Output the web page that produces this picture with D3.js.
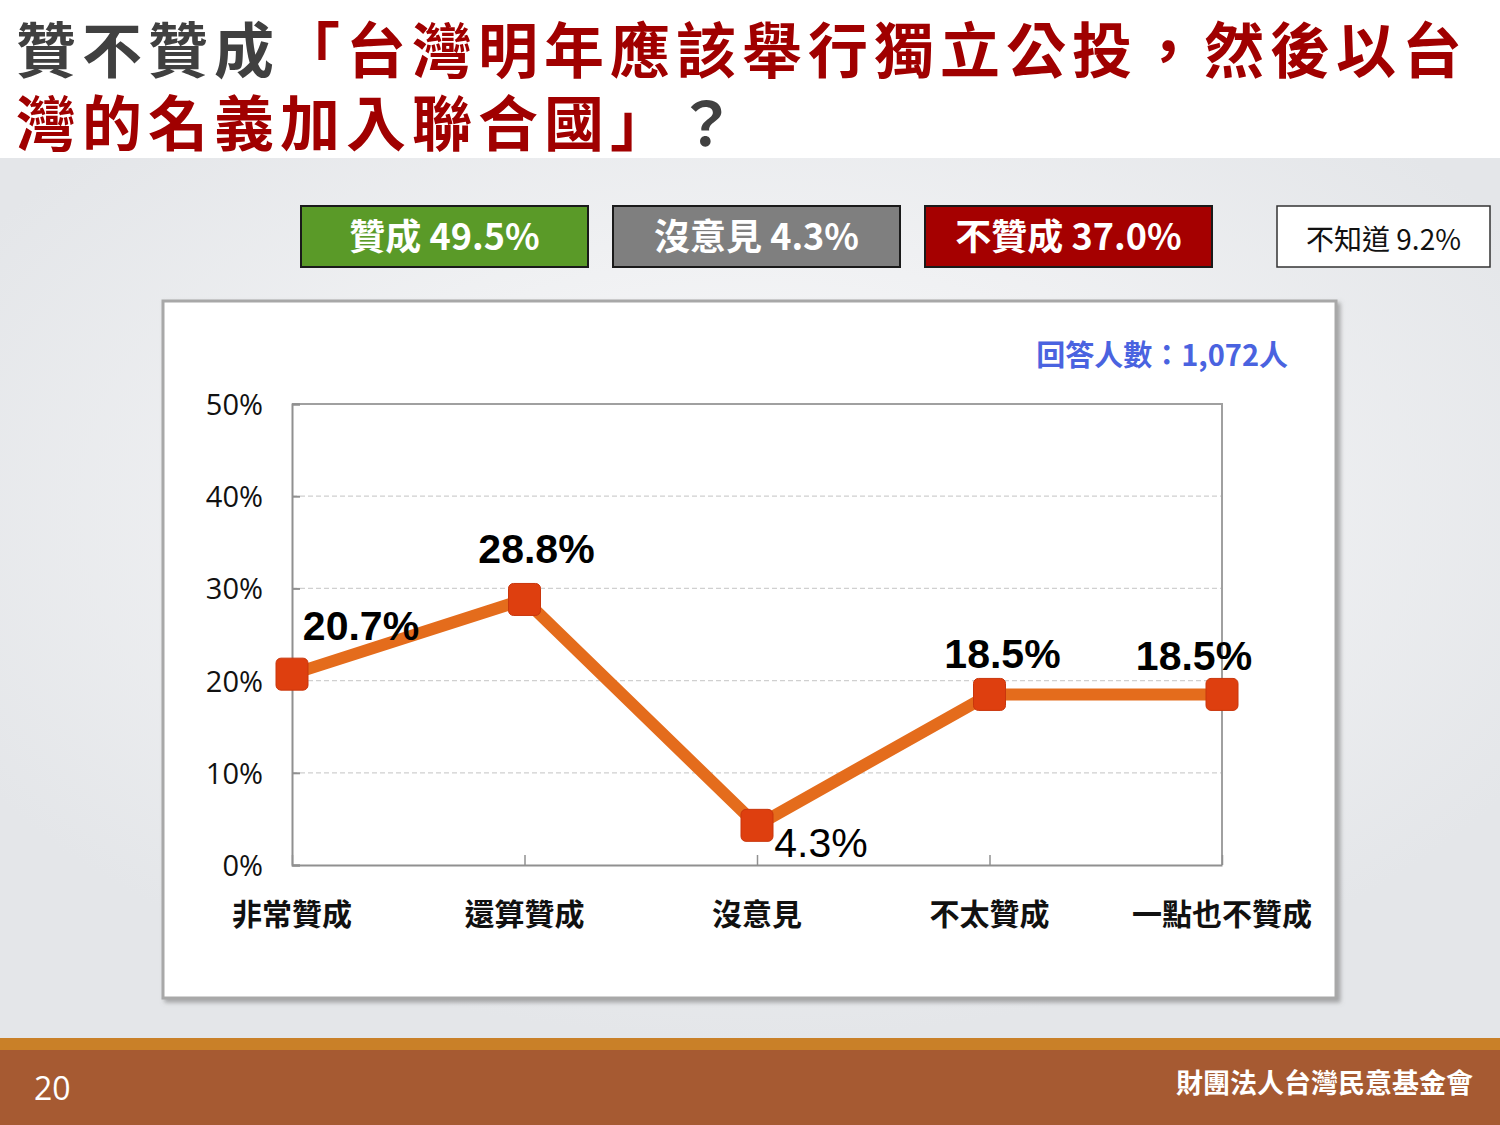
<!DOCTYPE html>
<html>
<head>
<meta charset="utf-8">
<script src="https://cdn.jsdelivr.net/npm/d3@7"></script>
<style>
  html, body { margin: 0; padding: 0; background: #ffffff; }
  svg { display: block; }
</style>
</head>
<body>
<svg id="slide" width="1500" height="1125"></svg>
<script>
// Survey answers and their shares (%)
const categories = ["非常贊成", "還算贊成", "沒意見", "不太贊成", "一點也不贊成"];
const shares = [20.7, 28.8, 4.3, 18.5, 18.5];
const yTicks = [0, 10, 20, 30, 40, 50];

// Summary boxes above the chart
const summaryLabels = ["贊成 49.5%", "沒意見 4.3%", "不贊成 37.0%", "不知道 9.2%"];
const summaryFills = ["#5a9a28", "#7f7f7f", "#a50000", "#ffffff"];
const summaryText = ["#ffffff", "#ffffff", "#ffffff", "#111111"];

const CJK = "'Noto Sans CJK TC', 'Noto Sans CJK SC', sans-serif";
const LATIN = "'Liberation Sans', Arial, sans-serif";

const svg = d3.select("#slide");
const defs = svg.append("defs");

// Slide background: soft grey with a lighter centre
const bg = defs.append("radialGradient").attr("id", "bgGrad")
  .attr("cx", "50%").attr("cy", "40%").attr("r", "60%");
bg.append("stop").attr("offset", "0%").attr("stop-color", "#fbfbfc");
bg.append("stop").attr("offset", "100%").attr("stop-color", "#e4e6e9");

const shadow = defs.append("filter").attr("id", "panelShadow")
  .attr("x", "-5%").attr("y", "-5%").attr("width", "110%").attr("height", "110%");
shadow.append("feDropShadow").attr("dx", 3).attr("dy", 3).attr("stdDeviation", 2)
  .attr("flood-color", "#777").attr("flood-opacity", 0.6);

svg.append("rect").attr("x", 0).attr("y", 0).attr("width", 1500).attr("height", 1125).attr("fill", "#fff");
svg.append("rect").attr("x", 0).attr("y", 158).attr("width", 1500).attr("height", 880).attr("fill", "url(#bgGrad)");

// Title (two lines)
const title = svg.append("g").attr("font-family", CJK).attr("font-weight", 700)
  .attr("font-size", 60).attr("letter-spacing", 6);
const t1 = title.append("text").attr("x", 16).attr("y", 73);
t1.append("tspan").attr("fill", "#404040").text("贊不贊成");
t1.append("tspan").attr("fill", "#a00000").text("「台灣明年應該舉行獨立公投，然後以台");
const t2 = title.append("text").attr("x", 16).attr("y", 146);
t2.append("tspan").attr("fill", "#a00000").text("灣的名義加入聯合國」");
t2.append("tspan").attr("fill", "#404040").text("？");

// Summary boxes
const boxX = [301, 613, 925, 1277];
const boxW = [287, 287, 287, 213];
summaryLabels.forEach((lab, i) => {
  const g = svg.append("g");
  g.append("rect").attr("x", boxX[i]).attr("y", 206).attr("width", boxW[i]).attr("height", 61)
    .attr("fill", summaryFills[i]).attr("stroke", i === 3 ? "#333" : "#1a1a1a").attr("stroke-width", i === 3 ? 1.5 : 2);
  g.append("text").attr("x", boxX[i] + boxW[i] / 2).attr("y", 250)
    .attr("text-anchor", "middle").attr("font-family", CJK)
    .attr("font-weight", i === 3 ? 400 : 700).attr("font-size", i === 3 ? 28 : 36)
    .attr("fill", summaryText[i]).text(lab);
});

// Chart panel
svg.append("rect").attr("x", 163).attr("y", 301).attr("width", 1173).attr("height", 697)
  .attr("fill", "#ffffff").attr("stroke", "#a8a8a8").attr("stroke-width", 3)
  .attr("filter", "url(#panelShadow)");

svg.append("text").attr("x", 1288).attr("y", 366).attr("text-anchor", "end")
  .attr("font-family", CJK).attr("font-weight", 700).attr("font-size", 29)
  .attr("fill", "#4a63e0").text("回答人數：1,072人");

// Plot area
const plot = { left: 292, right: 1222, top: 404, bottom: 865 };
const x = d3.scalePoint().domain(categories).range([plot.left, plot.right]);
const y = d3.scaleLinear().domain([0, 50]).range([plot.bottom, plot.top]);

const g = svg.append("g");

// Dashed gridlines
g.selectAll("line.grid").data(yTicks.filter(t => t > 0 && t < 50)).join("line")
  .attr("class", "grid")
  .attr("x1", plot.left).attr("x2", plot.right)
  .attr("y1", d => y(d)).attr("y2", d => y(d))
  .attr("stroke", "#d0d0d0").attr("stroke-width", 1.2).attr("stroke-dasharray", "5,3");

// Plot frame (top and right)
g.append("path")
  .attr("d", `M${plot.left},${y(50)}H${plot.right}V${plot.bottom}`)
  .attr("fill", "none").attr("stroke", "#a0a0a0").attr("stroke-width", 2);

// Y axis
const yAxis = g.append("g").attr("transform", `translate(${plot.left},0)`)
  .call(d3.axisLeft(y).tickValues(yTicks).tickFormat(d => d + "%").tickSize(-8).tickPadding(29));
yAxis.select(".domain").attr("stroke", "#909090").attr("stroke-width", 2);
yAxis.selectAll(".tick line").attr("stroke", "#909090").attr("stroke-width", 2);
yAxis.selectAll(".tick text").attr("font-family", "'Open Sans', " + LATIN).attr("font-size", 29)
  .attr("fill", "#111").attr("dy", "0.36em");

// X axis
const xAxis = g.append("g").attr("transform", `translate(0,${plot.bottom})`)
  .call(d3.axisBottom(x).tickSize(-10).tickPadding(0).tickSizeOuter(0));
xAxis.select(".domain").attr("stroke", "#909090").attr("stroke-width", 2);
xAxis.selectAll(".tick line").attr("stroke", "#909090").attr("stroke-width", 1.5);
xAxis.selectAll(".tick text").remove();
g.selectAll("text.xlab").data(categories).join("text")
  .attr("class", "xlab")
  .attr("x", d => x(d)).attr("y", 925).attr("text-anchor", "middle")
  .attr("font-family", CJK).attr("font-weight", 700).attr("font-size", 30)
  .attr("fill", "#111").text(d => d);

// Line and markers
const pts = categories.map((c, i) => ({ c, v: shares[i] }));
g.append("path").datum(pts)
  .attr("d", d3.line().x(d => x(d.c)).y(d => y(d.v)))
  .attr("fill", "none").attr("stroke", "#e46c1c").attr("stroke-width", 12)
  .attr("stroke-linejoin", "miter");

g.selectAll("rect.mark").data(pts).join("rect")
  .attr("class", "mark")
  .attr("x", d => x(d.c) - 16).attr("y", d => y(d.v) - 16)
  .attr("width", 32).attr("height", 32).attr("rx", 5)
  .attr("fill", "#de3f0f").attr("stroke", "#c9360c").attr("stroke-width", 1);

// Value labels
const labelPos = [
  { dx: 69, dy: -34, bold: true },
  { dx: 12, dy: -36, bold: true },
  { dx: 64, dy: 32, bold: false },
  { dx: 13, dy: -26, bold: true },
  { dx: -28, dy: -24, bold: true }
];
g.selectAll("text.val").data(pts).join("text")
  .attr("class", "val")
  .attr("x", (d, i) => x(d.c) + labelPos[i].dx)
  .attr("y", (d, i) => y(d.v) + labelPos[i].dy)
  .attr("text-anchor", "middle")
  .attr("font-family", LATIN)
  .attr("font-weight", (d, i) => labelPos[i].bold ? 700 : 400)
  .attr("font-size", 41).attr("fill", "#000")
  .text(d => d.v.toFixed(1) + "%");

// Footer
svg.append("rect").attr("x", 0).attr("y", 1038).attr("width", 1500).attr("height", 12).attr("fill", "#c98028");
svg.append("rect").attr("x", 0).attr("y", 1050).attr("width", 1500).attr("height", 75).attr("fill", "#a65a32");
svg.append("text").attr("x", 34).attr("y", 1100).attr("font-family", "'Open Sans', " + LATIN)
  .attr("font-size", 32).attr("fill", "#fff").text("20");
svg.append("text").attr("x", 1473).attr("y", 1093).attr("text-anchor", "end")
  .attr("font-family", CJK).attr("font-weight", 700).attr("font-size", 27)
  .attr("fill", "#fff").text("財團法人台灣民意基金會");
</script>
</body>
</html>
